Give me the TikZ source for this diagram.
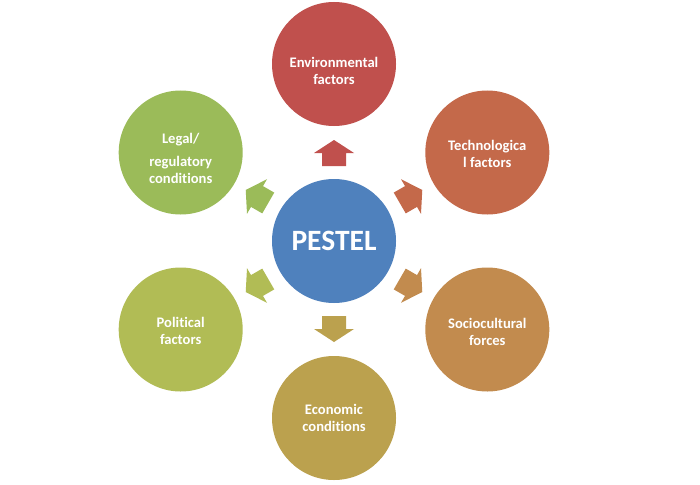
\documentclass[tikz,border=0pt]{standalone}
\usepackage{fontspec}
\setmainfont{Carlito}[Ligatures={NoCommon}]
\definecolor{cEnv}{HTML}{C0504D}
\definecolor{cTech}{HTML}{C4694A}
\definecolor{cSoc}{HTML}{C28B4E}
\definecolor{cEco}{HTML}{BBA14E}
\definecolor{cPol}{HTML}{B1BC55}
\definecolor{cLeg}{HTML}{9BBB59}
\definecolor{cMid}{HTML}{4F81BD}
\newcommand\blockarrow[3]{%
  \fill[#1, shift={#2}, rotate=#3] (-13,-12) -- (0,-12) -- (0,-20) -- (13,0) -- (0,20) -- (0,12) -- (-13,12) -- cycle;}
\begin{document}
\begin{tikzpicture}[x=1pt,y=-1pt,
  circ/.style={circle, minimum size=124pt, inner sep=0pt, draw=none},
  lbl/.style={text=white, font=\bfseries\fontsize{14.6}{17}\selectfont, align=center, inner sep=0pt},
  ]
\useasboundingbox[fill=white] (0,0) rectangle (700,484);
% circles
\node[circ, fill=cMid] (mid) at (334,241) {};
\node[circ, fill=cEnv] (env) at (334,64) {};
\node[circ, fill=cTech] (tech) at (487.3,152.5) {};
\node[circ, fill=cSoc] (soc) at (487.3,329.5) {};
\node[circ, fill=cEco] (eco) at (334,418) {};
\node[circ, fill=cPol] (pol) at (180.7,329.5) {};
\node[circ, fill=cLeg] (leg) at (180.7,152.5) {};
% labels
\node[lbl, font=\bfseries\fontsize{29.5}{32}\selectfont] (midt) at (mid.center) {PESTEL};
\node[lbl] (envt) at ([yshift=-7pt]env.center) {Environmental\\factors};
\node[lbl] (techt) at ([yshift=-1pt]tech.center) {Technologica\\l factors};
\node[lbl] (soct) at ([yshift=-2pt]soc.center) {Sociocultural\\forces};
\node[lbl] (ecot) at (eco.center) {Economic\\conditions};
\node[lbl] (polt) at ([yshift=-1pt]pol.center) {Political\\factors};
\node[lbl] (legt) at ([yshift=-6pt]leg.center) {Legal/\\[6pt]regulatory\\conditions};
% arrows
\blockarrow{cEnv}{(334,153)}{90}
\blockarrow{cTech}{(411,196.5)}{30}
\blockarrow{cSoc}{(411,285.5)}{-30}
\blockarrow{cEco}{(334,329)}{-90}
\blockarrow{cPol}{(257,285.5)}{210}
\blockarrow{cLeg}{(257,196.5)}{150}
\end{tikzpicture}
\end{document}
